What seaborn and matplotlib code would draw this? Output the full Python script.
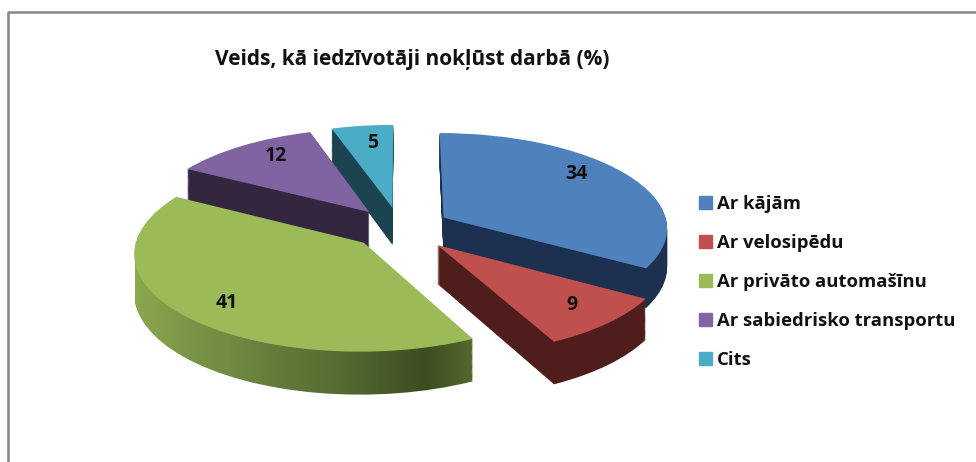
import numpy as np
import matplotlib
matplotlib.use("Agg")
import matplotlib.pyplot as plt
import seaborn as sns
from matplotlib.patches import Patch
from matplotlib.transforms import Affine2D, Transform

title = "Veids, kā iedzīvotāji nokļūst darbā (%)"
categories = ["Ar kājām", "Ar velosipēdu", "Ar privāto automašīnu",
              "Ar sabiedrisko transportu", "Cits"]
values = [34, 9, 41, 12, 5]

top_colors = sns.color_palette(["#4f81bd", "#c0504d", "#9bbb59", "#8064a2", "#4bacc6"])
side_colors = sns.color_palette(["#1c3150", "#4f1e1c", "#5f7a38", "#35263f", "#1c4450"])
green_side = sns.blend_palette(["#8aa84e", "#7c9748", "#6f8a42", "#62793a", "#566f32",
                                "#4a5e2a", "#3d4c20", "#55692e"], as_cmap=True)

# far slices first, so the near ones cover their walls
draw_order = [4, 3, 0, 2, 1]
explode = [0.225, 0.24, 0.22, 0.22, 0.22]
label_nudge = [(0, -12), (14, 5), (-10, 9), (0, -8), (3, -4)]
depth = 38

sns.set_theme(style="white")
plt.rcParams["font.family"] = ["Open Sans", "DejaVu Sans"]


class PieView(Transform):
    """Tilts the flat unit pie into picture pixels, with some perspective."""
    input_dims = 2
    output_dims = 2
    is_affine = False

    def __init__(self, z=0):
        super().__init__()
        self.z = z

    def transform_non_affine(self, xy):
        xy = np.asarray(xy, dtype=float)
        s = 1 / (1 + 0.1 * xy[:, 1])
        return np.column_stack([400 + 224.5 * xy[:, 0] * s,
                                228 - 95 * xy[:, 1] * s + self.z * s])


fig = plt.figure(figsize=(9.76, 4.62), dpi=100, facecolor="white")
ax = fig.add_axes([0, 0, 1, 1])

for z in range(depth, 0, -1):
    wedges, _ = ax.pie(values, colors=side_colors, explode=explode, startangle=90,
                       counterclock=False, wedgeprops={"linewidth": 0})
    for i, w in enumerate(wedges):
        w.set_transform(PieView(z) + ax.transData)
        zo = 1 + draw_order.index(i) * 100 + (depth - z)
        w.set_zorder(zo)
        if i == 2:
            im = ax.imshow(np.linspace(0, 1, 340)[None, :], cmap=green_side, aspect="auto",
                           extent=(135, 475, 400, 190), zorder=zo)
            im.set_clip_path(w)
            w.set_visible(False)

wedges, texts = ax.pie(values, colors=top_colors, explode=explode, startangle=90,
                       counterclock=False, wedgeprops={"linewidth": 0},
                       labels=[str(v) for v in values], labeldistance=0.72,
                       textprops={"fontsize": 14, "fontweight": "bold", "color": "#111111",
                                  "ha": "center", "va": "center"})
for i, w in enumerate(wedges):
    w.set_transform(PieView(0) + ax.transData)
    w.set_zorder(1 + draw_order.index(i) * 100 + depth)
for t, (dx, dy) in zip(texts, label_nudge):
    t.set_transform(PieView(0) + Affine2D().translate(dx, dy) + ax.transData)
    t.set_zorder(1000)

ax.set_aspect("auto")
ax.set_xlim(0, 976)
ax.set_ylim(462, 0)
ax.set_axis_off()

# the frame of the pasted chart
ax.plot([7.5, 7.5, 976], [462, 12, 12], color="#858585", lw=1.8, zorder=1001)

ax.text(412, 60, title, fontsize=15, fontweight="bold", color="#111111",
        ha="center", va="center", zorder=1001)

handles = [Patch(color=c) for c in top_colors]
ax.legend(handles, categories, loc="center left", bbox_to_anchor=(699 / 976, 1 - 282 / 462),
          frameon=False, labelspacing=1.14, handlelength=0.7, handleheight=0.7,
          handletextpad=0.27, borderpad=0, borderaxespad=0, labelcolor="#111111",
          prop={"weight": "bold", "size": 13.3})

fig.savefig("out.png", dpi=100)
